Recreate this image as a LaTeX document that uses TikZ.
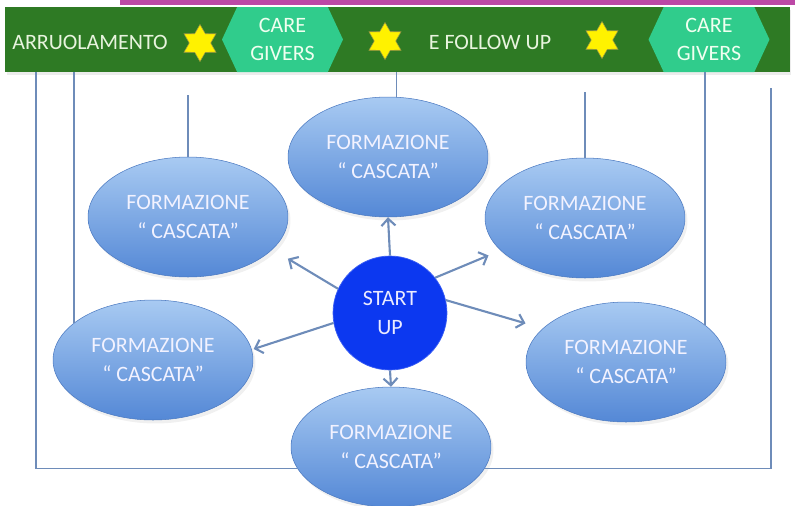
\documentclass[tikz,border=0pt]{standalone}
\usepackage{fontspec}
\setmainfont{Carlito}
\usetikzlibrary{shapes.geometric,shapes.symbols,arrows.meta,shadows}
\definecolor{barGreen}{RGB}{46,122,36}
\definecolor{careGreen}{RGB}{48,204,140}
\definecolor{linkBlue}{RGB}{110,140,185}
\definecolor{startBlue}{RGB}{12,56,240}
\definecolor{ovalTop}{RGB}{168,202,242}
\definecolor{ovalBot}{RGB}{84,136,214}
\definecolor{paleText}{RGB}{232,244,222}
\definecolor{topStrip}{RGB}{188,72,166}
\begin{document}
\begin{tikzpicture}[x=0.02cm, y=-0.02cm,
	font=\fontsize{12.5}{17}\selectfont,
	formazione/.style={ellipse, minimum width=4cm, minimum height=2.4cm, top color=ovalTop, bottom color=ovalBot, draw=ovalBot!90!black, line width=0.3pt, text=white!95!blue, align=center, drop shadow={opacity=0.12, shadow xshift=0.05cm, shadow yshift=-0.07cm}},
	caregivers/.style={signal, signal to=west and east, signal pointer angle=130, fill=careGreen, text=white!94!green, minimum width=2.42cm, minimum height=1.3cm, inner sep=1pt, align=center, font=\fontsize{12.5}{15.5}\selectfont},
	sixstar/.style={star, star points=6, star point ratio=1.73, minimum size=0.74cm, inner sep=0pt, fill=yellow, draw=yellow!55!black, line width=0.3pt},
	link/.style={draw=linkBlue, line width=0.9pt},
	spoke/.style={draw=linkBlue, line width=1.2pt, -{Straight Barb[length=4pt,width=8pt]}}]
		\useasboundingbox (0,0) rectangle (795,505);
		\fill[topStrip] (120,0) rectangle (795,5);

		\node[fill=barGreen, minimum width=15.7cm, minimum height=1.3cm, inner sep=0pt, drop shadow={opacity=0.15, shadow xshift=0.03cm, shadow yshift=-0.05cm}] (bar) at (397.5,39.5) {};
		\node[text=paleText] (arruol) at (90,42) {ARRUOLAMENTO};
		\node[sixstar] (star1) at (200,43) {};
		\node[caregivers] (care1) at (282.5,39.5) {CARE\\GIVERS};
		\node[sixstar] (star2) at (385,41) {};
		\node[text=paleText] (follow) at (490,42) {E FOLLOW UP};
		\node[sixstar] (star3) at (602,40) {};
		\node[caregivers] (care2) at (709,39.5) {CARE\\GIVERS};

		\node[formazione] (top) at (388,157) {FORMAZIONE\\“ CASCATA”};
		\node[formazione] (uleft) at (188,217) {FORMAZIONE\\“ CASCATA”};
		\node[formazione] (uright) at (585,218) {FORMAZIONE\\“ CASCATA”};
		\node[formazione] (lleft) at (153,360) {FORMAZIONE\\“ CASCATA”};
		\node[formazione] (lright) at (626,362) {FORMAZIONE\\“ CASCATA”};
		\node[formazione] (bottom) at (391,447) {FORMAZIONE\\“ CASCATA”};

		\node[circle, minimum size=2.28cm, fill=startBlue, draw=startBlue!80!white, text=white!92!blue, align=center] (start) at (390,313) {START\\UP};

		\draw[spoke] (start.north) -- (top.south);
		\draw[spoke, shorten >=0.36cm] (start.155) -- (uleft.-21);
		\draw[spoke, shorten >=0.26cm] (start.38) -- (uright.201);
		\draw[spoke, shorten >=0.04cm] (start.190) -- (lleft.6);
		\draw[spoke, shorten >=0.36cm] (start.13) -- (lright.158);
		\draw[spoke] (start.south) -- (bottom.north);

		\coordinate (loopL) at (36,72);
		\coordinate (loopR) at (771,88);
		\coordinate (ulTop) at (190,95);
		\coordinate (urTop) at (586,92);
		\draw[link] (bottom.193) -| (loopL);
		\draw[link] (bottom.-13) -| (loopR);
		\draw[link] (lleft.155) -- (lleft.155 |- bar.south);
		\draw[link] (uleft.north) -- (uleft.north |- ulTop);
		\draw[link] (top.82) -- (top.82 |- bar.south);
		\draw[link] (uright.north) -- (uright.north |- urTop);
		\draw[link] (lright.25) -- (lright.25 |- care2.south);
	\end{tikzpicture}
\end{document}
